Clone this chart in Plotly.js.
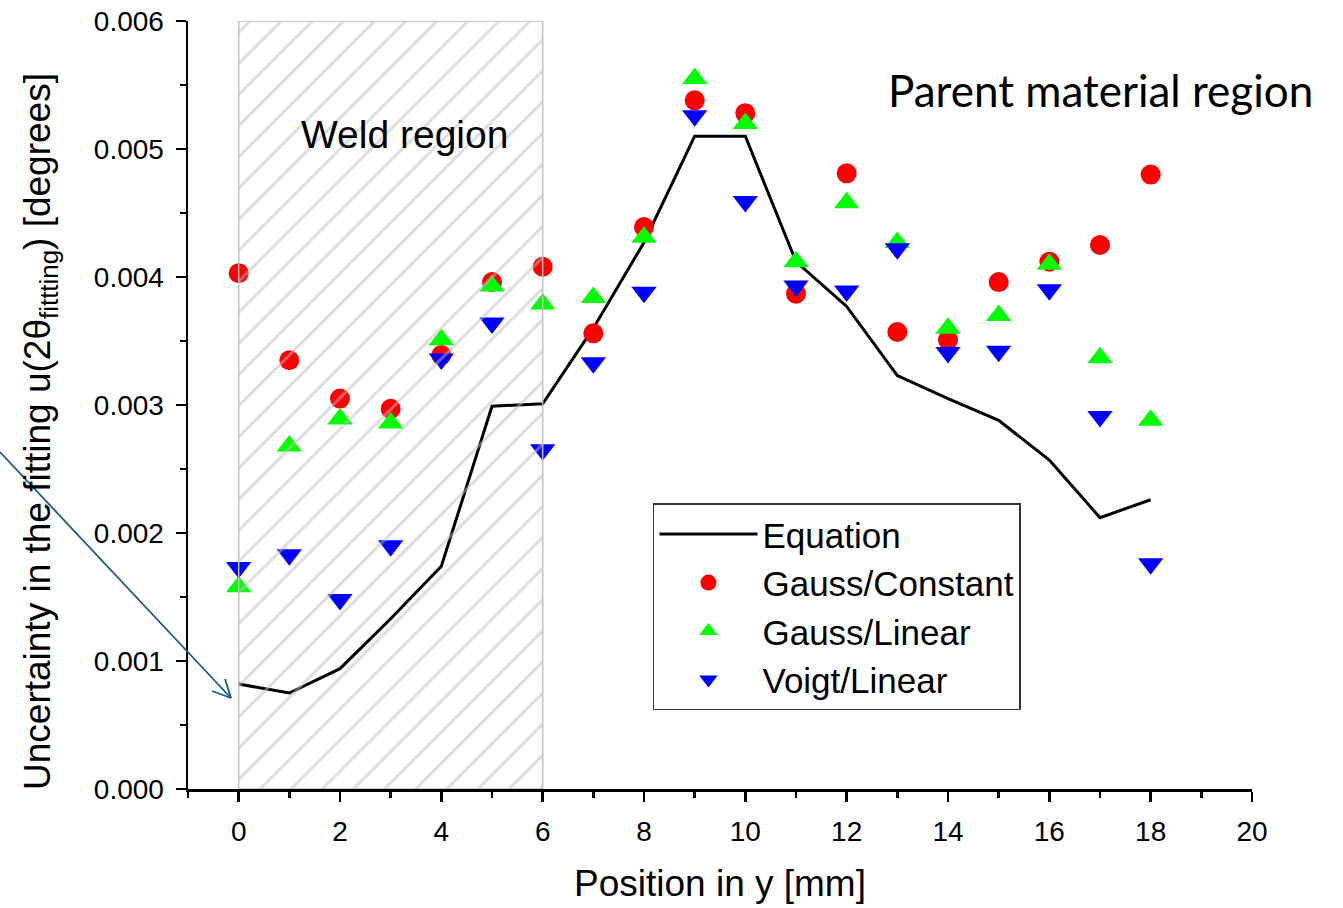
<!DOCTYPE html>
<html>
<head>
<meta charset="utf-8">
<script src="https://cdn.plot.ly/plotly-3.0.1.min.js"></script>
<style>html,body{margin:0;padding:0;background:#fff;}#chart{width:1343px;height:908px;}</style>
</head>
<body>
<div id="chart"></div>
<script>
// ---- data ----
var positions = [0,1,2,3,4,5,6,7,8,9,10,11,12,13,14,15,16,17,18];
var equation = [0.00082,0.00075,0.00094,0.00133,0.00174,0.00299,0.00301,0.00360,0.00427,0.00510,0.00510,0.00412,0.00377,0.00323,0.00305,0.00288,0.00257,0.00212,0.00226];
var gaussConstant = [0.00403,0.00335,0.00305,0.00297,0.00339,0.00396,0.00408,0.00356,0.00439,0.00538,0.00528,0.00387,0.00481,0.00357,0.00351,0.00396,0.00412,0.00425,0.00480];
var gaussLinear = [0.00158,0.00268,0.00289,0.00286,0.00351,0.00393,0.00379,0.00384,0.00431,0.00555,0.00520,0.00412,0.00458,0.00427,0.00360,0.00370,0.00410,0.00337,0.00288];
var voigtLinear = [0.00173,0.00183,0.00148,0.00190,0.00336,0.00364,0.00265,0.00333,0.00388,0.00526,0.00459,0.00393,0.00389,0.00422,0.00341,0.00342,0.00390,0.00291,0.00176];
var seriesNames = ['Equation','Gauss/Constant','Gauss/Linear','Voigt/Linear'];
var xTitle = 'Position in y [mm]';
var yTitle = 'Uncertainty in the fitting u(2θ<sub>fittting</sub>) [degrees]';
var weldStart = 0, weldEnd = 6, weldTop = 0.006;

var font = 'Liberation Sans, Arial, sans-serif';
var arrowColor = '#1b5a82';

var traces = [
  {x: positions, y: equation, name: seriesNames[0], type: 'scatter', mode: 'lines',
   line: {color: '#000000', width: 3}},
  {x: positions, y: gaussConstant, name: seriesNames[1], type: 'scatter', mode: 'markers',
   marker: {symbol: 'circle', color: '#ff0000', size: 20}},
  {x: positions, y: gaussLinear, name: seriesNames[2], type: 'scatter', mode: 'markers',
   marker: {symbol: 'triangle-up', color: '#00ff00', size: 22}},
  {x: positions, y: voigtLinear, name: seriesNames[3], type: 'scatter', mode: 'markers',
   marker: {symbol: 'triangle-down', color: '#0000ff', size: 22}},
  {x: [(weldStart + weldEnd) / 2], y: [weldTop], width: [weldEnd - weldStart], type: 'bar',
   xaxis: 'x2', yaxis: 'y2', showlegend: false, hoverinfo: 'skip',
   marker: {color: 'rgba(0,0,0,0)', line: {color: '#c0c0c0', width: 1.5},
     pattern: {shape: '/', fgcolor: '#bdbdbd', bgcolor: 'rgba(0,0,0,0)', size: 22, solidity: 0.14, fillmode: 'overlay'}}}
];

var axisCommon = {
  showline: true, linecolor: '#000', linewidth: 2.5, mirror: false,
  ticks: 'outside', ticklen: 10, tickwidth: 2.5, tickcolor: '#000',
  showgrid: false, zeroline: false,
  tickfont: {family: font, size: 28, color: '#000'}
};

function arrowLine(x0, y0, x1, y1) {
  return {type: 'line', xref: 'paper', yref: 'paper', x0: x0, y0: y0, x1: x1, y1: y1,
          line: {color: arrowColor, width: 1.8}};
}

var layout = {
  width: 1343, height: 908,
  margin: {l: 188, r: 91, t: 21, b: 119},
  paper_bgcolor: '#fff', plot_bgcolor: '#fff',
  showlegend: true,
  xaxis: Object.assign({}, axisCommon, {
    range: [-1, 20], tickmode: 'linear', tick0: 0, dtick: 2,
    minor: {ticks: 'outside', ticklen: 6, tickwidth: 2.5, tickcolor: '#000', dtick: 1, tick0: 0},
    ticklabelstandoff: 6,
    title: {text: xTitle, font: {family: font, size: 37, color: '#000'}, standoff: 24}
  }),
  yaxis: Object.assign({}, axisCommon, {
    range: [0, 0.006], tickmode: 'linear', tick0: 0, dtick: 0.001, tickformat: '.3f',
    minor: {ticks: 'outside', ticklen: 6, tickwidth: 2.5, tickcolor: '#000', dtick: 0.0005, tick0: 0},
    ticklabelstandoff: 6
  }),
  xaxis2: {overlaying: 'x', range: [-1, 20], visible: false, fixedrange: true},
  yaxis2: {overlaying: 'y', range: [0, 0.006], visible: false, fixedrange: true},
  legend: {
    x: 0.437, y: 0.372, xanchor: 'left', yanchor: 'top',
    bgcolor: '#fff', bordercolor: '#333', borderwidth: 1.5,
    font: {family: font, size: 35, color: '#000'},
    itemwidth: 98, tracegroupgap: 0
  },
  annotations: [
    {x: -0.139, y: 0.465, xref: 'paper', yref: 'paper', text: yTitle, textangle: -90,
     showarrow: false, xanchor: 'center', yanchor: 'middle',
     font: {family: font, size: 37, color: '#000'}},
    {x: 3.27, y: 0.00511, xref: 'x', yref: 'y', text: 'Weld region', showarrow: false,
     font: {family: font, size: 39, color: '#000'}},
    {x: 17.0, y: 0.00546, xref: 'x', yref: 'y', text: 'Parent material region', showarrow: false,
     font: {family: 'Lato, Open Sans, sans-serif', size: 44, color: '#000'}}
  ],
  shapes: [
    arrowLine(-0.1767, 0.4388, 0.0404, 0.1185),
    arrowLine(0.0348, 0.1432, 0.0404, 0.1185),
    arrowLine(0.0226, 0.1276, 0.0404, 0.1185)
  ]
};

Plotly.newPlot('chart', traces, layout, {displayModeBar: false, staticPlot: true});
</script>
</body>
</html>
